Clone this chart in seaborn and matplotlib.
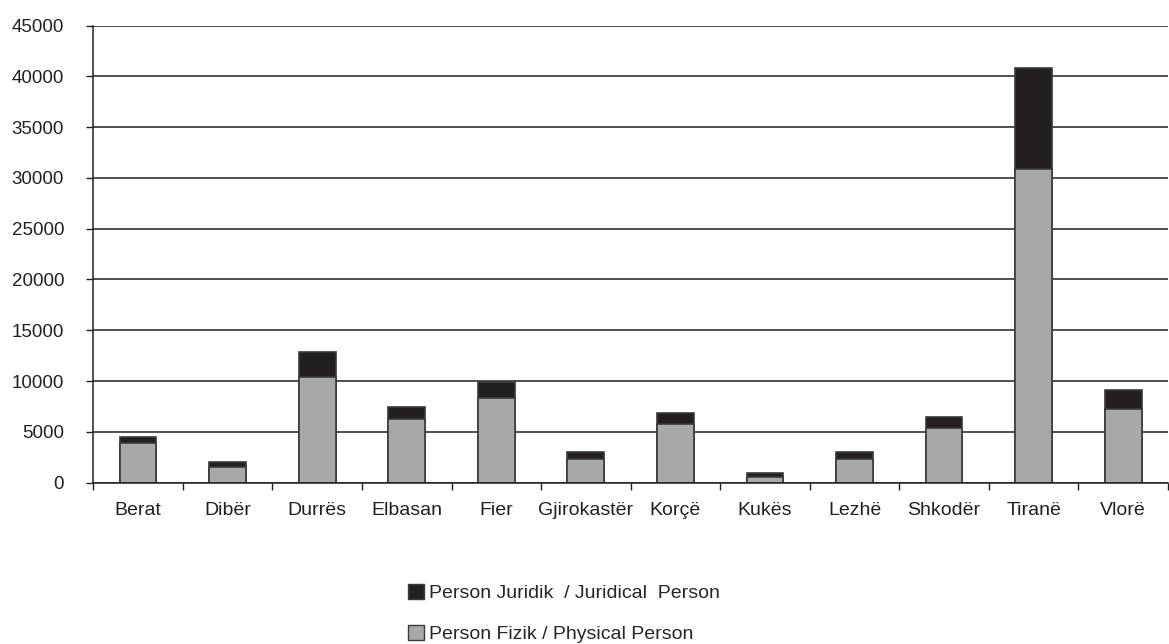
import numpy as np
import pandas as pd
import matplotlib
matplotlib.use("Agg")
import matplotlib.pyplot as plt
import seaborn as sns
from matplotlib.patches import Patch

# dados
rrethet = ["Berat", "Dibër", "Durrës", "Elbasan", "Fier", "Gjirokastër",
           "Korçë", "Kukës", "Lezhë", "Shkodër", "Tiranë", "Vlorë"]
fizik = [3880, 1520, 10430, 6240, 8310, 2300, 5780, 590, 2300, 5350, 30880, 7220]
juridik = [650, 550, 2420, 1240, 1630, 690, 1050, 390, 750, 1090, 9910, 1870]

df = pd.DataFrame({"rrethi": rrethet, "fizik": fizik, "juridik": juridik})
df["total"] = df["fizik"] + df["juridik"]

sns.set_theme(style="white")
plt.rcParams["font.family"] = ["Liberation Sans", "DejaVu Sans"]

fig = plt.figure(figsize=(11.69, 6.44), dpi=100)
ax = fig.add_axes([0.0798, 0.2505, 0.9193, 0.7099])

c_jur = "#231f20"
c_fiz = "#a7a8aa"
edge = "#3a3a3a"

# barra total (preta) e por cima a parte fisica (cinza)
sns.barplot(data=df, x="rrethi", y="total", color=c_jur, width=0.41,
            edgecolor=edge, linewidth=1.2, saturation=1, ax=ax)
sns.barplot(data=df, x="rrethi", y="fizik", color=c_fiz, width=0.41,
            edgecolor=edge, linewidth=1.2, saturation=1, ax=ax)

ax.set_ylim(0, 45000)
ax.set_xlim(-0.5, 11.5)
ax.set_yticks(np.arange(0, 45001, 5000))
ax.yaxis.grid(True, color="#231f20", linewidth=1.1)
ax.set_axisbelow(True)
ax.set_xlabel("")
ax.set_ylabel("")

for s in ["top", "right"]:
    ax.spines[s].set_visible(False)
for s in ["left", "bottom"]:
    ax.spines[s].set_color("#231f20")
    ax.spines[s].set_linewidth(1.1)

# ticks do eixo x entre as categorias
ax.set_xticks(np.arange(-0.5, 12, 1), minor=True)
ax.tick_params(axis="x", which="minor", direction="out", length=5, width=1,
               color="#231f20", bottom=True)
ax.tick_params(axis="x", which="major", length=0, pad=14, labelsize=14,
               labelcolor="#231f20")
ax.tick_params(axis="y", direction="out", length=5, width=1, color="#231f20",
               left=True, pad=16, labelsize=13.5, labelcolor="#231f20")

handles = [Patch(facecolor=c_jur, edgecolor=edge, label="Person Juridik  / Juridical  Person"),
           Patch(facecolor=c_fiz, edgecolor=edge, label="Person Fizik / Physical Person")]
fig.legend(handles=handles, loc="upper left", bbox_to_anchor=(0.342, 0.1056),
           frameon=False, fontsize=14, handlelength=0.82, handleheight=0.82,
           handletextpad=0.26, labelspacing=1.18, borderaxespad=0)

fig.savefig("out.png", dpi=100)
plt.close(fig)
